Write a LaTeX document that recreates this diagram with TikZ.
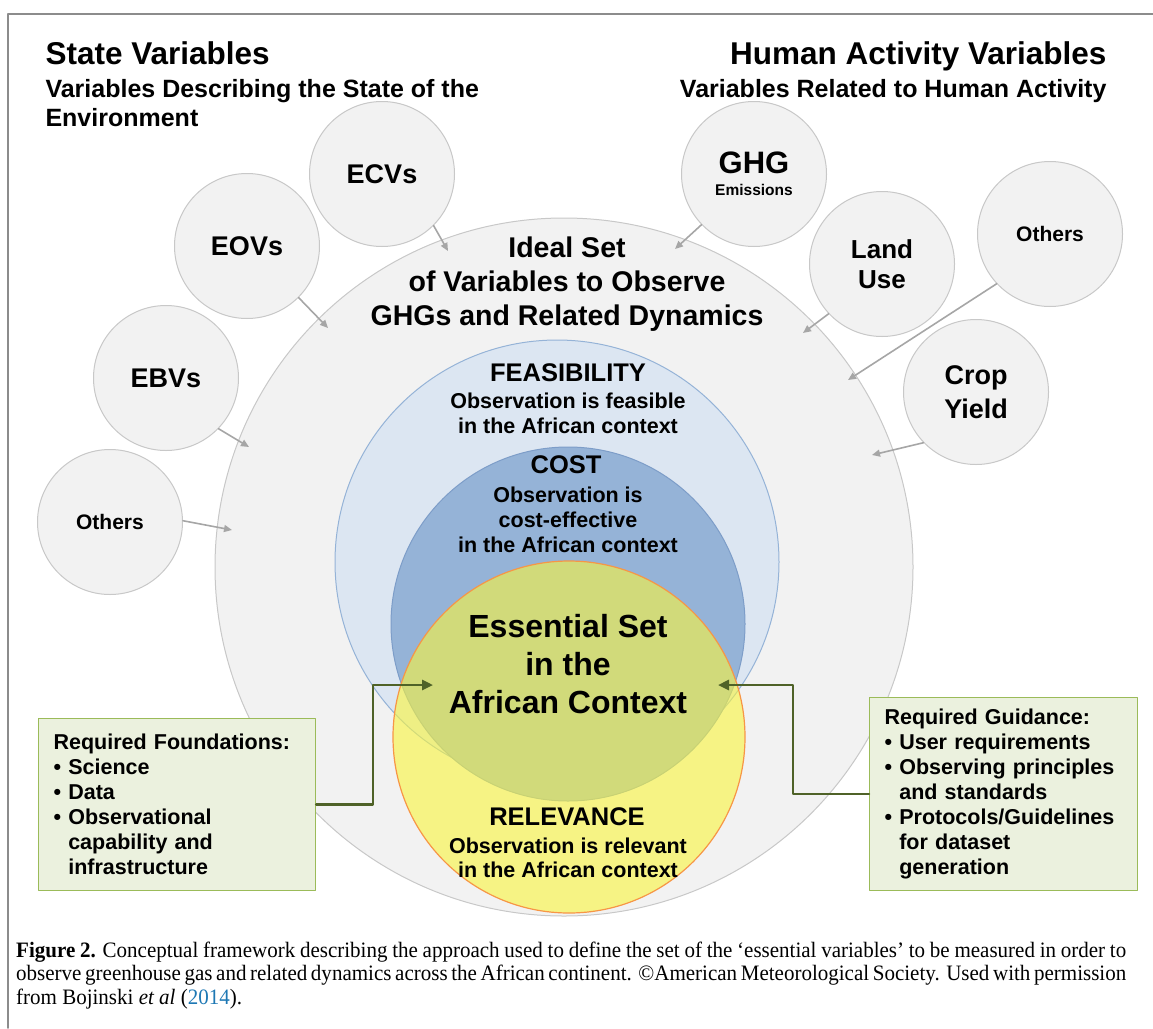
\documentclass[tikz,border=0pt]{standalone}
\usepackage{fontspec}
\setmainfont{Liberation Sans}
\newfontfamily\capfont{Liberation Serif}[FakeStretch=0.955]
\usetikzlibrary{arrows.meta}

\definecolor{circgray}{RGB}{242,242,242}
\definecolor{circline}{RGB}{200,200,200}
\definecolor{feedgray}{RGB}{166,166,166}
\definecolor{feasblue}{RGB}{220,230,242}
\definecolor{feasline}{RGB}{149,179,215}
\definecolor{costblue}{RGB}{149,179,215}
\definecolor{costline}{RGB}{125,157,200}
\definecolor{relyellow}{RGB}{250,245,60}
\definecolor{relline}{RGB}{247,150,70}
\definecolor{boxgreen}{RGB}{235,241,222}
\definecolor{boxline}{RGB}{155,187,89}
\definecolor{linkgreen}{RGB}{79,98,40}
\definecolor{framegray}{RGB}{140,140,140}
\definecolor{citeblue}{RGB}{30,120,180}
\newcommand{\fsz}[2]{\fontsize{#1}{#2}\selectfont}

\begin{document}
\begin{tikzpicture}[x=1pt, y=-1pt, line join=round, line cap=round,
    varnode/.style={circle, draw=circline, line width=1pt, fill=circgray,
      minimum size=145pt, inner sep=0pt, align=center},
    feed/.style={draw=feedgray, line width=1.6pt, -{Triangle[length=8pt,width=7pt]}},
    needbox/.style={draw=boxline, line width=1.2pt, fill=boxgreen, anchor=north west,
      align=left, inner xsep=15pt, font=\bfseries\fsz{21.5}{25}},
    link/.style={draw=linkgreen, line width=2.6pt, -{Triangle[length=11pt,width=10pt]}}]
    \useasboundingbox (0,0) rectangle (1153,1028);

    % 1. Frame
    \draw[framegray, line width=1.5pt] (8,1028) -- (8,14) -- (1153,14);

    % 2. Nested circles (Ideal set, feasibility, cost, relevance)
    \draw[circline, fill=circgray, line width=1pt] (564,567) circle (349pt);
    \draw[feasline, fill=feasblue, line width=1pt] (557,562) circle (222pt);
    \draw[costline, fill=costblue, line width=1pt] (568,624) circle (177pt);
    \draw[relline, line width=1.2pt, fill=relyellow, fill opacity=0.6] (569,737) circle (176pt);

    % 3. Variable circles
    \node[varnode, font=\bfseries\fsz{27}{30}] (ecv) at (382,174) {ECVs};
    \node[varnode, font=\bfseries\fsz{27}{30}] (eov) at (247,246) {EOVs};
    \node[varnode, font=\bfseries\fsz{27}{30}] (ebv) at (166,378) {EBVs};
    \node[varnode, font=\bfseries\fsz{21}{25}] (othl) at (110,522) {Others};
    \node[varnode, font=\bfseries\fsz{31}{22}] (ghg) at (754,174) {GHG\\\fsz{15.5}{22}Emissions};
    \node[varnode, font=\bfseries\fsz{26}{30}] (land) at (882,264) {Land\\Use};
    \node[varnode, font=\bfseries\fsz{21}{25}] (othr) at (1050,234) {Others};
    \node[varnode, font=\bfseries\fsz{27}{34}] (crop) at (976,392) {Crop\\Yield};

    % arrow ends inside the ideal set
    \coordinate (ecvin) at (448,251);
    \coordinate (eovin) at (328,328);
    \coordinate (ebvin) at (249,447);
    \coordinate (othlin) at (232,530);
    \coordinate (ghgin) at (675,249);
    \coordinate (landin) at (803,333);
    \coordinate (othrin) at (848,380);
    \coordinate (cropin) at (872,455);

    % 4. Grey arrows
    \draw[feed] (ecv.-45) -- (ecvin);
    \draw[feed] (eov.-45) -- (eovin);
    \draw[feed] (ebv.-44) -- (ebvin);
    \draw[feed] (othl.1) -- (othlin);
    \draw[feed] (ghg.-136) -- (ghgin);
    \draw[feed] (land.-137) -- (landin);
    \draw[feed] (othr.-137) -- (othrin);
    \draw[feed] (crop.-136) -- (cropin);

    % 5. Headings
    \node[anchor=base west, font=\bfseries\fsz{31.5}{36}] (statehead) at (42,64) {State Variables};
    \node[anchor=base west, align=left, font=\bfseries\fsz{25}{29}] (statesub) at (42,126)
      {Variables Describing the State of the\\Environment};
    \node[anchor=base east, font=\bfseries\fsz{31.5}{36}] (humanhead) at (1110,64) {Human Activity Variables};
    \node[anchor=base east, font=\bfseries\fsz{25}{29}] (humansub) at (1110,97) {Variables Related to Human Activity};

    % 6. Circle texts (base = last line)
    \node[anchor=base, align=center, font=\bfseries\fsz{28.5}{34}] (ideal) at (567,325)
      {Ideal Set\\of Variables to Observe\\GHGs and Related Dynamics};
    \node[anchor=base, font=\bfseries\fsz{25.5}{30}] (feas) at (568,381) {FEASIBILITY};
    \node[anchor=base, align=center, font=\bfseries\fsz{21.5}{25}] (feasdesc) at (568,433)
      {Observation is feasible\\in the African context};
    \node[anchor=base, font=\bfseries\fsz{25.5}{30}] (cost) at (566,473) {COST};
    \node[anchor=base, align=center, font=\bfseries\fsz{21.5}{25}] (costdesc) at (568,552)
      {Observation is\\cost-effective\\in the African context};
    \node[anchor=base, align=center, font=\bfseries\fsz{32}{38}] (essential) at (568,713)
      {Essential Set\\in the\\African Context};
    \node[anchor=base, font=\bfseries\fsz{25.5}{30}] (rel) at (567,825) {RELEVANCE};
    \node[anchor=base, align=center, font=\bfseries\fsz{21.5}{24}] (reldesc) at (568,877)
      {Observation is relevant\\in the African context};

    % 7. Requirement boxes
    \node[needbox, text width=247pt, minimum width=277pt, minimum height=172pt] (found) at (38,718)
      {Required Foundations:\\\textbullet\ Science\\\textbullet\ Data\\\textbullet\ Observational\\
       \hphantom{\textbullet\ }capability and\\\hphantom{\textbullet\ }infrastructure};
    \node[needbox, text width=238pt, minimum width=268pt, minimum height=193pt] (guide) at (869,697)
      {Required Guidance:\\\textbullet\ User requirements\\\textbullet\ Observing principles\\
       \hphantom{\textbullet\ }and standards\\\textbullet\ Protocols/Guidelines\\
       \hphantom{\textbullet\ }for dataset\\\hphantom{\textbullet\ }generation};

    % 8. Green connectors
    \coordinate (lbend) at (373,685);
    \coordinate (ltip) at (433,685);
    \coordinate (rbend) at (793,685);
    \coordinate (rtip) at (718,685);
    \draw[link] (found.east) -| (lbend) -- (ltip);
    \draw[link] (guide.west) -| (rbend) -- (rtip);

    % 9. Caption
    \node[anchor=base west, text width=1110pt, align=justify, inner sep=0pt,
      font=\capfont\fsz{22}{23.5}] (caption) at (16,957)
      {\textbf{Figure 2.} Conceptual framework describing the approach used to define the set of the ‘essential variables’ to be measured in order to\linebreak
       observe greenhouse gas and related dynamics across the African continent. ©American Meteorological Society. Used with permission\linebreak
       from Bojinski \textit{et al} (\textcolor{citeblue}{2014}).};
\end{tikzpicture}
\end{document}
